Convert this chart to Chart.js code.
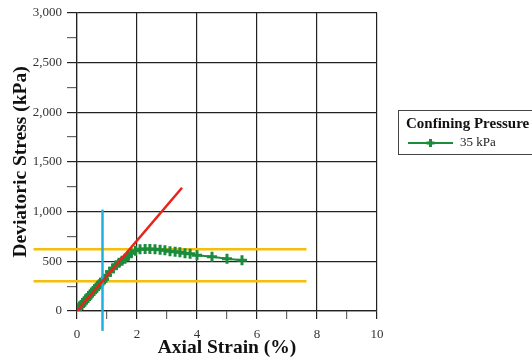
<!DOCTYPE html>
<html>
<head>
<meta charset="utf-8">
<script src="https://cdn.jsdelivr.net/npm/chart.js@4.4.1/dist/chart.umd.min.js"></script>
<style>
  html, body { margin: 0; padding: 0; background: #fff; }
  #wrap { width: 532px; height: 364px; }
</style>
</head>
<body>
<div id="wrap"><canvas id="stressChart"></canvas></div>
<script>
// triaxial test, 35 kPa confining pressure
let strain = [0, 0.05, 0.1, 0.15, 0.2, 0.25, 0.3, 0.35, 0.4, 0.45, 0.5, 0.55, 0.6, 0.65, 0.7, 0.75, 0.8, 0.85, 0.9,
  1.0, 1.1, 1.2, 1.3, 1.4, 1.5, 1.6, 1.7, 1.8, 1.95, 2.1, 2.27, 2.43, 2.6, 2.77, 2.93, 3.1, 3.27, 3.43, 3.6, 3.77,
  4.0, 4.5, 5.0, 5.5];
let stress = [0, 25, 45, 60, 80, 95, 115, 130, 150, 165, 185, 200, 220, 235, 255, 270, 285, 300, 320,
  360, 395, 430, 460, 485, 505, 525, 550, 580, 605, 620, 625, 625, 620, 615, 610, 600, 595, 590, 580, 575,
  560, 545, 525, 510];
let seriesLabel = '35 kPa';

// secant line (E50)
let secantStrain = [0, 3.5];
let secantStress = [0, 1240];

// peak and half of peak
let peakStress = 620;
let halfStress = 300;
let guideStrain = [-1.45, 7.65];

// strain at half of peak
let e50Strain = 0.85;
let e50Range = [-200, 1020];

// axis ticks
let xTicks = [0, 2, 4, 6, 8, 10];
let yTicks = [0, 500, 1000, 1500, 2000, 2500, 3000];

Chart.defaults.font.family = '"Liberation Serif", "Times New Roman", serif';
Chart.defaults.color = '#333';

function pts(xs, ys) {
  return xs.map((x, i) => ({ x: x, y: ys[i] }));
}

// legend box drawn in the right margin
const legendBox = {
  id: 'legendBox',
  afterDraw(chart) {
    const ctx = chart.ctx;
    const ds = chart.data.datasets[2];
    const left = chart.chartArea.right + 21;
    const top = 110;
    ctx.save();
    ctx.strokeStyle = '#444';
    ctx.lineWidth = 1;
    ctx.strokeRect(left + 0.5, top + 0.5, 200, 44);
    ctx.fillStyle = '#111';
    ctx.textBaseline = 'middle';
    ctx.font = 'bold 15px "Liberation Serif"';
    ctx.fillText('Confining Pressure', left + 8, top + 14);
    // line sample with a cross in the middle
    const ly = top + 33;
    ctx.strokeStyle = ds.borderColor;
    ctx.lineWidth = 2;
    ctx.beginPath();
    ctx.moveTo(left + 10, ly);
    ctx.lineTo(left + 55, ly);
    ctx.stroke();
    ctx.lineWidth = 3;
    ctx.beginPath();
    ctx.moveTo(left + 32.5 - 4, ly);
    ctx.lineTo(left + 32.5 + 4, ly);
    ctx.moveTo(left + 32.5, ly - 4);
    ctx.lineTo(left + 32.5, ly + 4);
    ctx.stroke();
    ctx.fillStyle = '#222';
    ctx.font = '13px "Liberation Serif"';
    ctx.fillText(ds.label, left + 62, ly);
    ctx.restore();
  }
};

new Chart(document.getElementById('stressChart'), {
  type: 'scatter',
  data: {
    datasets: [
      {
        label: 'secant',
        data: pts(secantStrain, secantStress),
        showLine: true,
        borderColor: '#e8231c',
        borderWidth: 2.5,
        pointRadius: 0,
        order: 0
      },
      {
        label: 'e50',
        data: pts([e50Strain, e50Strain], e50Range),
        showLine: true,
        borderColor: '#1fb0e0',
        borderWidth: 2.5,
        pointRadius: 0,
        clip: false,
        order: 1
      },
      {
        label: seriesLabel,
        data: pts(strain, stress),
        showLine: true,
        borderColor: '#1a8c3c',
        backgroundColor: '#1a8c3c',
        borderWidth: 2,
        pointStyle: 'cross',
        pointRadius: 5,
        pointBorderWidth: 3,
        order: 2
      },
      {
        label: 'peak',
        data: pts(guideStrain, [peakStress, peakStress]),
        showLine: true,
        borderColor: '#f5be0b',
        borderWidth: 2.5,
        pointRadius: 0,
        clip: false,
        order: 3
      },
      {
        label: 'half',
        data: pts(guideStrain, [halfStress, halfStress]),
        showLine: true,
        borderColor: '#f5be0b',
        borderWidth: 2.5,
        pointRadius: 0,
        clip: false,
        order: 4
      }
    ]
  },
  options: {
    responsive: true,
    maintainAspectRatio: false,
    animation: false,
    layout: { padding: { top: 10, right: 155, left: 0, bottom: 0 } },
    plugins: {
      legend: { display: false },
      tooltip: { enabled: false }
    },
    scales: {
      x: {
        type: 'linear',
        min: 0,
        max: 10,
        afterFit: (s) => { s.height = 53; },
        ticks: {
          stepSize: 1,
          autoSkip: false,
          maxRotation: 0,
          padding: 8,
          font: { size: 13 },
          callback: (v) => xTicks.includes(v) ? v : ''
        },
        grid: {
          color: (c) => xTicks.includes(c.tick.value) ? '#222' : 'transparent',
          tickColor: (c) => xTicks.includes(c.tick.value) ? '#222' : '#666',
          tickLength: 8,
          lineWidth: 1.2
        },
        border: { color: '#222', width: 1.2 },
        title: {
          display: true,
          text: 'Axial Strain (%)',
          color: '#111',
          font: { size: 19.5, weight: 'bold' },
          padding: { top: 0, bottom: 4 }
        }
      },
      y: {
        type: 'linear',
        min: 0,
        max: 3000,
        afterFit: (s) => { s.width = 77; },
        ticks: {
          stepSize: 250,
          autoSkip: false,
          padding: 5,
          font: { size: 13 },
          callback: (v) => yTicks.includes(v) ? v.toLocaleString('en-US') : ''
        },
        grid: {
          color: (c) => yTicks.includes(c.tick.value) ? '#222' : 'transparent',
          tickColor: (c) => yTicks.includes(c.tick.value) ? '#222' : '#666',
          tickLength: 10,
          lineWidth: 1.2
        },
        border: { color: '#222', width: 1.2 },
        title: {
          display: true,
          text: 'Deviatoric Stress (kPa)',
          color: '#111',
          font: { size: 19.5, weight: 'bold' },
          padding: { top: 9, bottom: 0 }
        }
      }
    }
  },
  plugins: [legendBox]
});
</script>
</body>
</html>
